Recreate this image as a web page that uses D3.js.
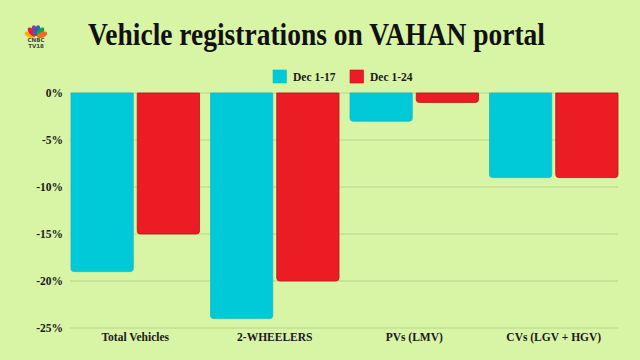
<!DOCTYPE html>
<html><head><meta charset="utf-8">
<script src="https://cdn.jsdelivr.net/npm/d3@7"></script>
<style>body{margin:0;background:#d8f4a5}svg{display:block}</style>
</head><body>
<svg id="c" width="640" height="360"></svg>
<script>
const categories = ["Total Vehicles", "2-WHEELERS", "PVs (LMV)", "CVs (LGV + HGV)"];
const seriesNames = ["Dec 1-17", "Dec 1-24"];
const dec17 = [-19, -24, -3, -9];
const dec24 = [-15, -20, -1, -9];
const yTicks = [0, -5, -10, -15, -20, -25];
const colors = ["#00c9d8", "#ec1c24"];
const strokes = ["#1fb8c4", "#b81419"];

const svg = d3.select("#c");
svg.append("rect").attr("width",640).attr("height",360).attr("fill","#d8f4a5");

const x0 = d3.scaleBand().domain(categories).range([65.5, 623.5]).paddingInner(0).paddingOuter(0);
const x1 = d3.scaleBand().domain(seriesNames).range([5.5, x0.bandwidth()-5.5]).paddingInner(0.06);
const y = d3.scaleLinear().domain([-25, 0]).range([328, 93]);

// gridlines
svg.append("g").selectAll("line").data(yTicks).join("line")
  .attr("x1",70).attr("x2",618).attr("y1",d=>y(d)).attr("y2",d=>y(d))
  .attr("stroke","#b5d68c").attr("stroke-width",1);

// y axis labels
const yAxis = d3.axisLeft(y).tickValues(yTicks).tickSize(0).tickPadding(0).tickFormat(d=>d+"%");
const ya = svg.append("g").attr("transform","translate(63,0)").call(yAxis);
ya.select(".domain").remove();
ya.selectAll("text").attr("font-family","Liberation Serif").attr("font-weight","bold").attr("font-size",11.5).attr("fill","#1a1a1a");

// x axis labels
const xAxis = d3.axisBottom(x0).tickSize(0).tickPadding(0);
const xa = svg.append("g").attr("transform","translate(0,333)").call(xAxis);
xa.select(".domain").remove();
xa.selectAll("text").attr("font-family","Liberation Serif").attr("font-weight","bold").attr("font-size",11.5).attr("fill","#1a1a1a");

// bars with rounded bottom corners
function barPath(xl, w, y0, y1, r){
  const h = y1 - y0;
  r = Math.min(r, h, w/2);
  return `M${xl},${y0}H${xl+w}V${y1-r}Q${xl+w},${y1} ${xl+w-r},${y1}H${xl+r}Q${xl},${y1} ${xl},${y1-r}Z`;
}
const rows = categories.map((c,i)=>({cat:c, vals:[dec17[i], dec24[i]]}));
const g = svg.append("g");
rows.forEach(r=>{
  r.vals.forEach((v,j)=>{
    const xl = x0(r.cat) + x1(seriesNames[j]);
    g.append("path").attr("d", barPath(xl, x1.bandwidth(), y(0), y(v), 3))
      .attr("fill", colors[j]).attr("stroke", strokes[j]).attr("stroke-width",0.8);
  });
});

// title
svg.append("text").attr("x",88).attr("y",45)
  .attr("font-family","Liberation Serif").attr("font-weight","bold").attr("font-size",31)
  .attr("textLength",457).attr("lengthAdjust","spacingAndGlyphs")
  .attr("fill","#111").text("Vehicle registrations on VAHAN portal");

// legend
const lg = svg.append("g");
const legX = [273, 350];
seriesNames.forEach((s,j)=>{
  lg.append("rect").attr("x",legX[j]).attr("y",70).attr("width",13.5).attr("height",13)
    .attr("fill",colors[j]).attr("stroke",strokes[j]).attr("stroke-width",0.6);
  lg.append("text").attr("x",legX[j]+20).attr("y",80.5)
    .attr("font-family","Liberation Serif").attr("font-weight","bold").attr("font-size",11.5)
    .attr("fill","#1a1a1a").text(s);
});

// logo (CNBC TV18 peacock)
const logo = svg.append("g").attr("transform","translate(36,37)");
const feathers = ["#f7b01c","#e8222d","#8a3f97","#2a64b1","#1aa14b","#f26b21"];
const angles = [-70,-40,-12,12,40,70];
angles.forEach((a,i)=>{
  logo.append("ellipse").attr("cx",0).attr("cy",-6.5).attr("rx",2.8).attr("ry",5.5)
    .attr("transform",`rotate(${a})`).attr("fill",feathers[i]);
});
logo.append("text").attr("x",0).attr("y",5).attr("text-anchor","middle")
  .attr("font-family","DejaVu Sans").attr("font-weight","bold").attr("font-size",5.5).attr("fill","#444").text("CNBC");
logo.append("text").attr("x",0).attr("y",10.5).attr("text-anchor","middle")
  .attr("font-family","DejaVu Sans").attr("font-weight","bold").attr("font-size",5.5).attr("fill","#444").text("TV18");
</script>
</body></html>
